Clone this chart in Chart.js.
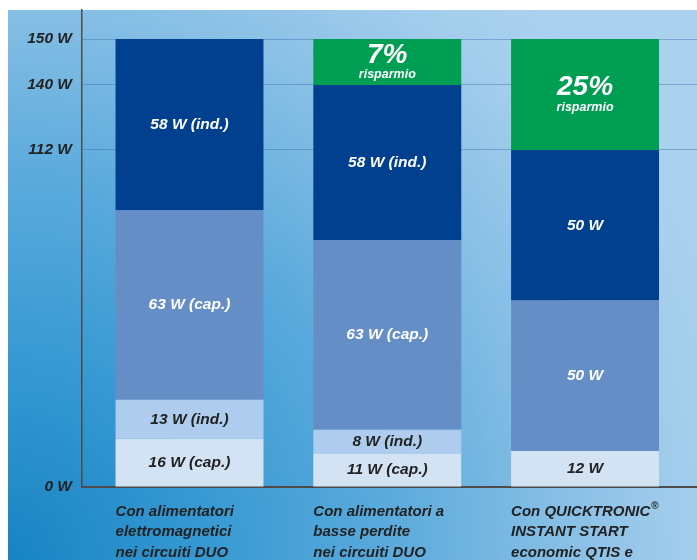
<!DOCTYPE html>
<html>
<head>
<meta charset="utf-8">
<script src="https://cdn.jsdelivr.net/npm/chart.js@4.4.0/dist/chart.umd.min.js"></script>
<style>
    html, body { margin: 0; padding: 0; background: #fff; }
</style>
</head>
<body>
<canvas id="myChart" width="697" height="560"></canvas>
<script>
// DATA
const categories = [
    ['Con alimentatori', 'elettromagnetici', 'nei circuiti DUO'],
    ['Con alimentatori a', 'basse perdite', 'nei circuiti DUO'],
    ['Con QUICKTRONIC®', 'INSTANT START', 'economic QTIS e']
];
const capLow = [16, 11, 12];
const indLow = [13, 8, null];
const capHigh = [63, 63, 50];
const indHigh = [58, 58, 50];
const saving = [null, 10, 38];
const savingPct = [null, 7, 25];
const showType = [true, true, false];
const yTicks = [0, 112, 140, 150];

// the printed axis is not linear (top part stretched), stops read off the picture
const axisStops = [[0, 0], [112, 0.7065], [140, 0.8428], [150, 0.9392], [160, 1]];

function toDecimal(v) {
    for (let i = 0; i < axisStops.length - 1; i++) {
        const a = axisStops[i], b = axisStops[i + 1];
        if (v <= b[0] || i === axisStops.length - 2) {
            return a[1] + (v - a[0]) / (b[0] - a[0]) * (b[1] - a[1]);
        }
    }
}
function fromDecimal(d) {
    for (let i = 0; i < axisStops.length - 1; i++) {
        const a = axisStops[i], b = axisStops[i + 1];
        if (d <= b[1] || i === axisStops.length - 2) {
            return a[0] + (d - a[1]) / (b[1] - a[1]) * (b[0] - a[0]);
        }
    }
}

class StretchScale extends Chart.LinearScale {
    static id = 'stretch';
    getPixelForValue(v) {
        if (v === null || isNaN(v)) return NaN;
        return this.getPixelForDecimal(toDecimal(v));
    }
    getValueForPixel(p) {
        return fromDecimal(this.getDecimalForPixel(p));
    }
}
Chart.register(StretchScale);

const FONT = 'Liberation Sans';
const DARK = '#222';

function ds(values, color, note, textColor) {
    return {
        data: values.map((v, i) => ({ x: i, y: v })),
        backgroundColor: color,
        note: note,
        textColor: textColor
    };
}

// background gradient with white margin
const backdrop = {
    id: 'backdrop',
    beforeDraw(chart) {
        const { ctx, width, height } = chart;
        ctx.save();
        ctx.fillStyle = '#fff';
        ctx.fillRect(0, 0, width, height);
        const g = ctx.createRadialGradient(8, height, 0, 8, height, 760);
        g.addColorStop(0, '#1784c3');
        g.addColorStop(0.25, '#3598d2');
        g.addColorStop(0.5, '#5aaadc');
        g.addColorStop(0.72, '#85bee5');
        g.addColorStop(0.9, '#a3cdec');
        g.addColorStop(1, '#aad2ef');
        ctx.fillStyle = g;
        ctx.fillRect(8, 10, width - 8, height - 10);
        ctx.restore();
    }
};

// texts inside the bars and category labels under them
const barTexts = {
    id: 'barTexts',
    afterDatasetsDraw(chart) {
        const ctx = chart.ctx;
        ctx.save();
        ctx.textAlign = 'center';
        ctx.textBaseline = 'middle';
        chart.data.datasets.forEach((set, di) => {
            const meta = chart.getDatasetMeta(di);
            meta.data.forEach((el, i) => {
                const v = set.data[i].y;
                if (v === null) return;
                const cy = (el.y + el.base) / 2;
                ctx.fillStyle = set.textColor;
                if (set.note === 'saving') {
                    ctx.font = 'italic bold 28px "' + FONT + '"';
                    ctx.fillText(savingPct[i] + '%', el.x, cy - 7);
                    ctx.font = 'italic bold 12.5px "' + FONT + '"';
                    ctx.fillText('risparmio', el.x, cy + 13);
                } else {
                    let txt = v + ' W';
                    if (showType[i]) txt += ' ' + set.note;
                    ctx.font = 'italic bold 15.5px "' + FONT + '"';
                    ctx.fillText(txt, el.x, cy);
                }
            });
        });

        // category labels, left aligned with each bar
        const meta0 = chart.getDatasetMeta(0);
        const bottom = chart.chartArea.bottom;
        ctx.textAlign = 'left';
        ctx.fillStyle = DARK;
        categories.forEach((lines, i) => {
            const el = meta0.data[i];
            const left = el.x - el.width / 2;
            lines.forEach((line, li) => {
                const y = bottom + 24.5 + li * 20.5;
                const parts = line.split('®');
                ctx.font = 'italic bold 15px "' + FONT + '"';
                ctx.fillText(parts[0], left, y);
                if (parts.length > 1) {
                    const w = ctx.measureText(parts[0]).width;
                    ctx.font = 'bold 10px "' + FONT + '"';
                    ctx.fillText('®', left + w + 1, y - 5);
                }
            });
        });
        ctx.restore();
    }
};

const ctx = document.getElementById('myChart');
new Chart(ctx, {
    type: 'bar',
    data: {
        datasets: [
            ds(capLow, '#d3e3f4', '(cap.)', DARK),
            ds(indLow, '#aecdee', '(ind.)', DARK),
            ds(capHigh, '#668ec6', '(cap.)', '#fff'),
            ds(indHigh, '#013f8f', '(ind.)', '#fff'),
            ds(saving, '#009e52', 'saving', '#fff')
        ]
    },
    options: {
        responsive: false,
        animation: false,
        layout: { padding: { top: 10 } },
        datasets: {
            bar: { categoryPercentage: 1, barPercentage: 0.748, borderWidth: 0 }
        },
        plugins: {
            legend: { display: false },
            tooltip: { enabled: false }
        },
        scales: {
            x: {
                type: 'linear',
                stacked: true,
                offset: false,
                min: -0.5436,
                max: 2.566,
                afterBuildTicks: (s) => { s.ticks = categories.map((c, i) => ({ value: i })); },
                afterFit: (s) => { s.height = 73; s.paddingLeft = 0; s.paddingRight = 0; },
                grid: { display: false, offset: false },
                ticks: { display: false },
                border: { color: '#4f4b4b', width: 2 }
            },
            y: {
                type: 'stretch',
                stacked: true,
                min: 0,
                max: 160,
                afterBuildTicks: (s) => { s.ticks = yTicks.map(v => ({ value: v })); },
                afterFit: (s) => { s.width = 82; s.paddingTop = 0; s.paddingBottom = 0; },
                grid: {
                    drawTicks: false,
                    color: (c) => c.tick && c.tick.value === 0 ? '#4f4b4b' : 'rgba(50,100,170,0.4)',
                    lineWidth: 1
                },
                border: { color: '#4f4b4b', width: 1.5 },
                ticks: {
                    padding: 10,
                    color: DARK,
                    font: { family: FONT, size: 15.5, style: 'italic', weight: 'bold' },
                    callback: (v) => v + ' W'
                }
            }
        }
    },
    plugins: [backdrop, barTexts]
});
</script>
</body>
</html>
